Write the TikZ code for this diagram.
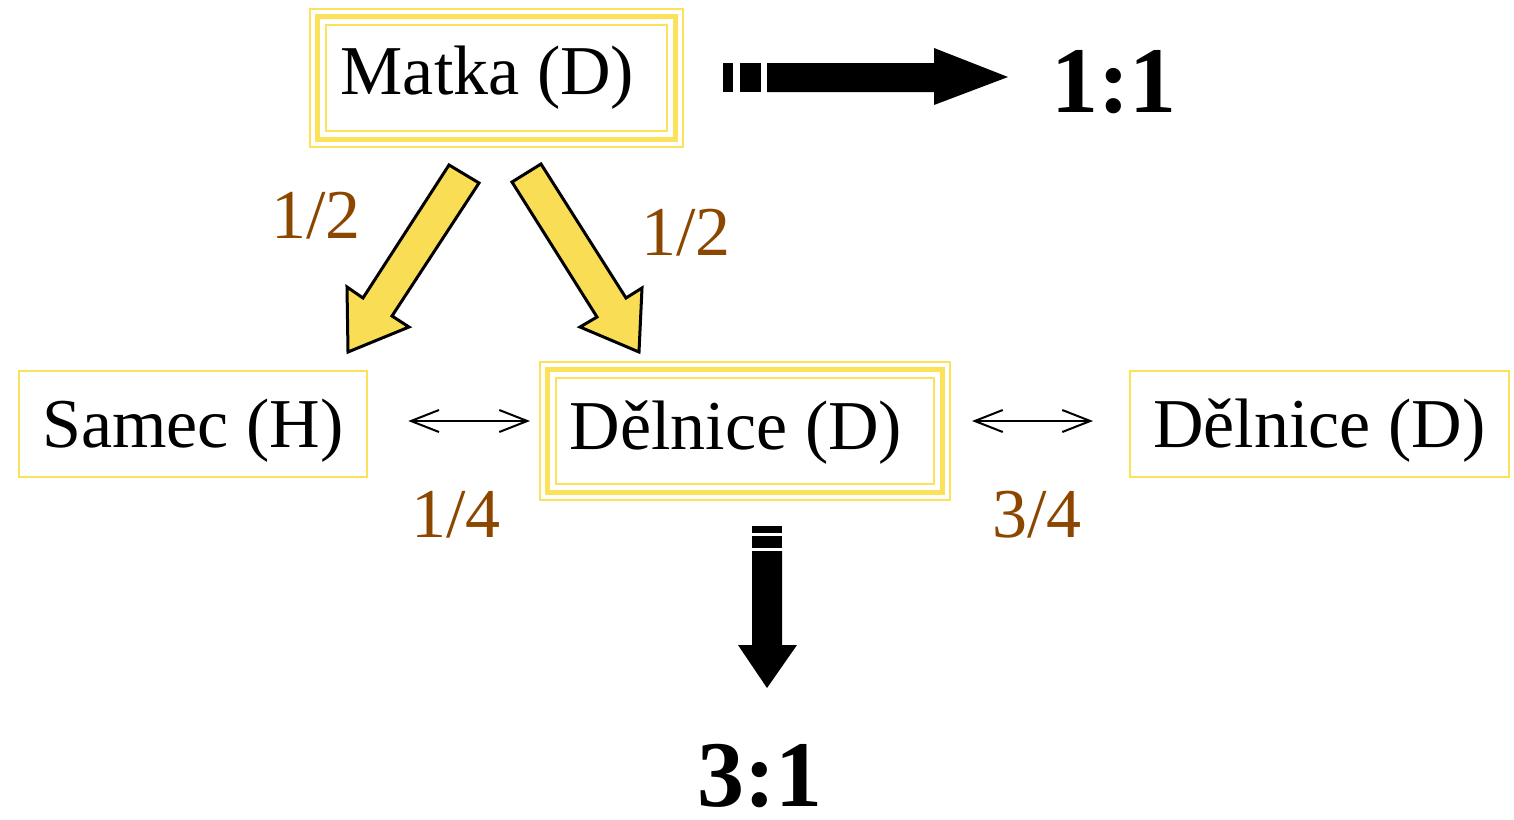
\documentclass[tikz,border=0pt]{standalone}
\usepackage{fontspec}
\setmainfont{Liberation Serif}
\usetikzlibrary{arrows.meta,calc}
\definecolor{boxyel}{RGB}{252,225,90}
\definecolor{arryel}{RGB}{249,222,85}
\definecolor{labbrown}{RGB}{139,70,0}
\newcommand{\lowered}[2]{\raisebox{-#1}[\height][\depth]{#2}}
\tikzset{
  box/.style={draw=boxyel, line width=2.5pt, minimum width=#1, minimum height=106pt, inner sep=0pt,
    font=\fontsize{70}{84}\selectfont},
  tribox/.style={draw=boxyel, line width=2pt, minimum width=#1, minimum height=106pt, inner sep=0pt,
    font=\fontsize{70}{84}\selectfont},
  frac/.style={text=labbrown, anchor=base, inner sep=0pt, font=\fontsize{70}{84}\selectfont},
  ratio/.style={anchor=base, inner sep=0pt, font=\bfseries\fontsize{94}{110}\selectfont},
  fatarrow/.style={fill=arryel, draw=black, line width=3pt, line join=miter},
  thinarrow/.style={line width=2pt, {Straight Barb[length=28pt,width=22pt]}-{Straight Barb[length=28pt,width=22pt]}}
}
\newcommand{\triframe}[1]{%
  \draw[boxyel, line width=5pt] ($(#1.south west)+(-7.5pt,-7.5pt)$) rectangle ($(#1.north east)+(7.5pt,7.5pt)$);
  \draw[boxyel, line width=2pt] ($(#1.south west)+(-15pt,-15pt)$) rectangle ($(#1.north east)+(15pt,15pt)$);
}
\begin{document}
\begin{tikzpicture}[x=1pt,y=-1pt]
\useasboundingbox (0,0) rectangle (1514,819);

% boxes
\node[tribox=341pt] (m) at (496.5,78) {Matka (D)\kern18pt};
\triframe{m}
\node[tribox=378pt] (d) at (745,431) {\lowered{2pt}{Dělnice (D)}\kern18pt};
\triframe{d}
\node[box=348pt] (s) at (193,424) {\lowered{7pt}{Samec (H)}};
\node[box=379pt] (r) at (1319.5,424) {\lowered{7pt}{Dělnice (D)}};

% yellow arrows
\draw[fatarrow] (449,165) -- (479,183) -- (392,316) -- (409,327) -- (348,352) -- (347,287) -- (363,298) -- cycle;
\draw[fatarrow] (512,182) -- (541,164) -- (626,298) -- (642,288) -- (639,352) -- (580,327) -- (597,317) -- cycle;

% double arrows
\draw[thinarrow] ([yshift=3pt]s.east) ++(40,0) coordinate (a1) -- (530,421) coordinate (a2);
\draw[thinarrow] (972,421) coordinate (b1) -- (1093,421) coordinate (b2);

% black arrows
\fill (723,63) rectangle (733,92);
\fill (740,63) rectangle (761,92);
\fill (767,63) -- (934,63) -- (934,48) -- (1008,77) -- (934,105) -- (934,92) -- (767,92) -- cycle;

\fill (752,526) rectangle (782,533);
\fill (752,536) rectangle (782,548);
\fill (752,551) -- (782,551) -- (782,645) -- (797,645) -- (767,688) -- (738,645) -- (752,645) -- cycle;

% labels
\node[frac] (f1) at (316,238) {1/2};
\node[frac] (f2) at (686,255) {1/2};
\node[frac] (f3) at (456,537) {1/4};
\node[frac] (f4) at (1037,537) {3/4};
\node[ratio] (r1) at (1114,112) {1:1};
\node[ratio] (r3) at (760,806) {3:1};
\end{tikzpicture}
\end{document}
